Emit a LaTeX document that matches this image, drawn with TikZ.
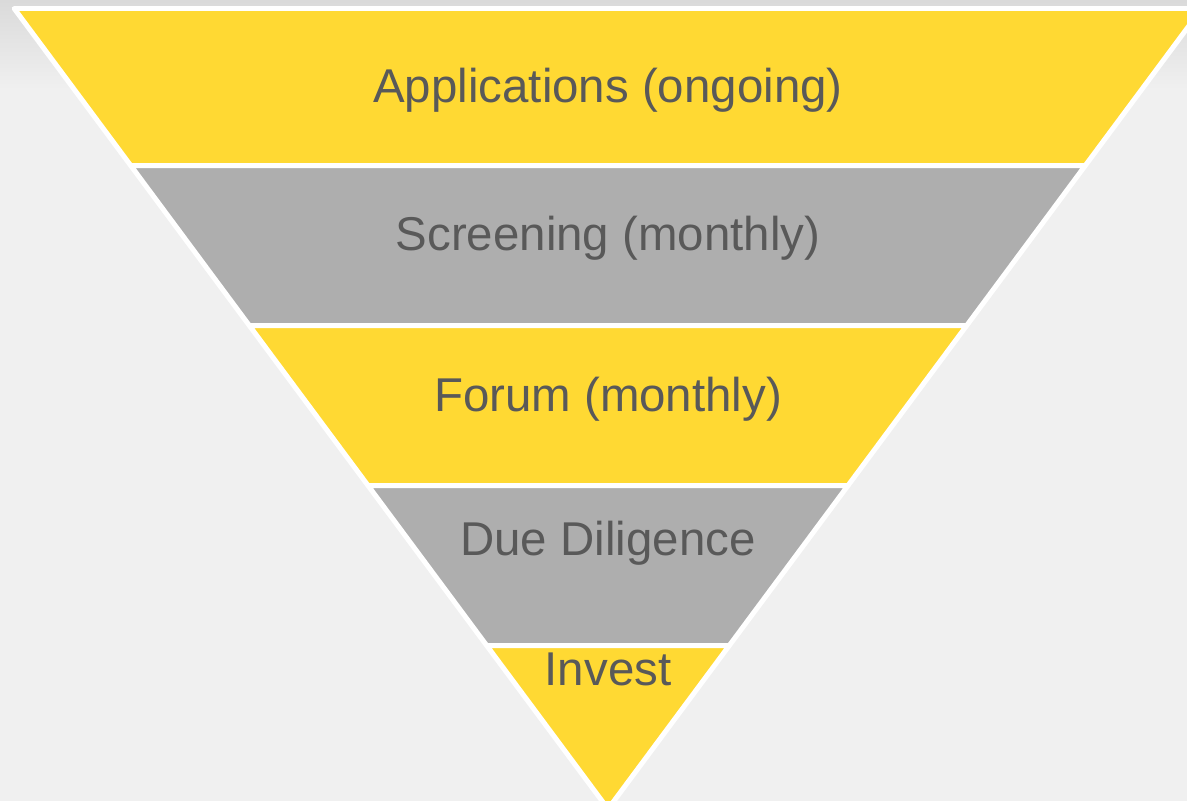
\documentclass[tikz,border=0pt]{standalone}
\usepackage{fontspec}
\setmainfont{Liberation Sans}
\definecolor{funnelyellow}{RGB}{255,217,51}
\definecolor{funnelgray}{RGB}{174,174,174}
\definecolor{labelgray}{RGB}{89,89,89}
\definecolor{backgray}{RGB}{240,240,240}
\definecolor{topgray}{RGB}{218,218,218}

\begin{document}
\begin{tikzpicture}[x=0.02cm,y=-0.02cm,
    band/.style={draw=white,line width=0.1cm,line join=round},
    stagetext/.style={anchor=base,text=labelgray,font=\fontsize{27}{32}\selectfont}]
  \useasboundingbox (0,0) rectangle (1187,801);
  \fill[backgray] (0,0) rectangle (1187,801);
  \shade[top color=topgray,bottom color=backgray] (0,0) rectangle (1187,90);
  \clip (0,0) rectangle (1187,801);
  \filldraw[band,fill=funnelyellow] (14.2,8.5) -- (1201.8,8.5) -- (1085.3,165.5) -- (130.7,165.5) -- cycle;
  \filldraw[band,fill=funnelgray] (130.7,165.5) -- (1085.3,165.5) -- (966.7,325.5) -- (249.3,325.5) -- cycle;
  \filldraw[band,fill=funnelyellow] (249.3,325.5) -- (966.7,325.5) -- (848,485.5) -- (368,485.5) -- cycle;
  \filldraw[band,fill=funnelgray] (368,485.5) -- (848,485.5) -- (729.3,645.5) -- (486.7,645.5) -- cycle;
  \filldraw[band,fill=funnelyellow] (486.7,645.5) -- (729.3,645.5) -- (608,809) -- cycle;
  \node[stagetext] (apps) at (608,102) {Applications (ongoing)};
  \node[stagetext] (screen) at (608,250) {Screening (monthly)};
  \node[stagetext] (forum) at (608,411) {Forum (monthly)};
  \node[stagetext] (dd) at (608,555) {Due Diligence};
  \node[stagetext] (invest) at (608,685) {Invest};
\end{tikzpicture}
\end{document}
